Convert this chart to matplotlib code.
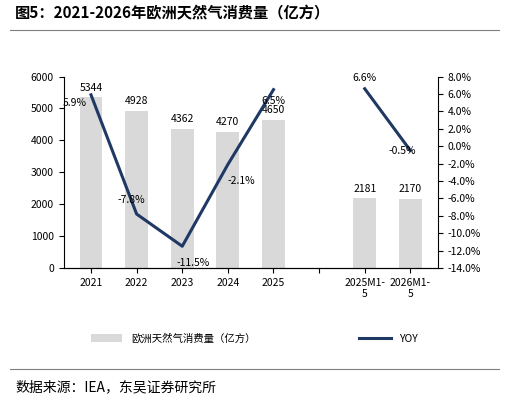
import numpy as np
import matplotlib
matplotlib.use("Agg")
import matplotlib.pyplot as plt

plt.rcParams['font.family'] = ['Noto Sans CJK SC', 'DejaVu Sans']

cats = ['2021', '2022', '2023', '2024', '2025', '', '2025M1-\n5', '2026M1-\n5']
consumption = [5344, 4928, 4362, 4270, 4650, np.nan, 2181, 2170]
yoy = [5.9, -7.8, -11.5, -2.1, 6.5, np.nan, 6.6, -0.5]

fig = plt.figure(figsize=(5.09, 4.03), dpi=100)
ax = fig.add_axes([0.125, 0.335, 0.735, 0.475])
x = np.arange(len(cats))
ax.bar(x, consumption, width=0.5, color='#d9d9d9', label='欧洲天然气消费量（亿方）')
for xi, v in zip(x, consumption):
    if not np.isnan(v):
        ax.text(xi, v + 150, f'{v:.0f}', ha='center', va='bottom', fontsize=7.5)
ax.set_ylim(0, 6000)
ax.set_yticks(range(0, 6001, 1000))
ax.set_xticks(x)
ax.set_xticklabels(cats, fontsize=7.5)
ax.tick_params(axis='y', labelsize=7.5)
ax.set_xlim(-0.6, len(cats) - 0.4)
for s in ['top', 'right']:
    ax.spines[s].set_visible(False)

ax2 = ax.twinx()
ax2.plot(x, yoy, color='#1f3864', lw=2.2, label='YOY')
ax2.set_ylim(-14, 8)
ax2.set_yticks(range(-14, 9, 2))
ax2.set_yticklabels([f'{t:.1f}%' for t in range(-14, 9, 2)], fontsize=7.5)
for s in ['top', 'left']:
    ax2.spines[s].set_visible(False)
offs = [(-12, -6), (-4, 10), (8, -12), (10, -12), (0, -8), None, (0, 8), (-6, 0)]
for xi, v, o in zip(x, yoy, offs):
    if o is not None:
        ax2.annotate(f'{v:.1f}%', (xi, v), xytext=o, textcoords='offset points',
                     ha='center', va='center', fontsize=7.5)

h1, l1 = ax.get_legend_handles_labels()
h2, l2 = ax2.get_legend_handles_labels()
fig.legend(h1 + h2, l1 + l2, loc='center', bbox_to_anchor=(0.5, 0.16), ncol=2,
           frameon=False, fontsize=7.5, columnspacing=10, handlelength=3)

fig.text(0.03, 0.955, '图5：2021-2026年欧洲天然气消费量（亿方）', fontsize=11, fontweight='bold')
fig.add_artist(plt.Line2D([0.02, 0.98], [0.925, 0.925], color='#7f7f7f', lw=0.8))
fig.add_artist(plt.Line2D([0.02, 0.98], [0.085, 0.085], color='#7f7f7f', lw=0.8))
fig.text(0.03, 0.03, '数据来源：IEA，东吴证券研究所', fontsize=10)

fig.savefig('out.png', dpi=100)
